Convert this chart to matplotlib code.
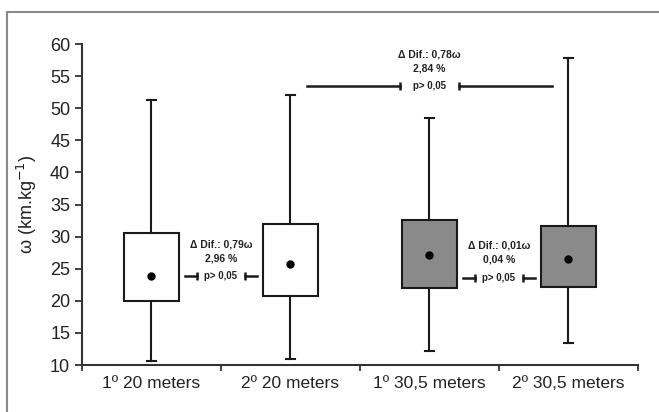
import matplotlib.pyplot as plt
from matplotlib.lines import Line2D

plt.rcParams['font.family'] = ['Liberation Sans', 'DejaVu Sans']

groups = ['1º 20 meters', '2º 20 meters', '1º 30,5 meters', '2º 30,5 meters']
whislo = [10.7, 11.0, 12.2, 13.4]
q1 = [20.0, 20.8, 22.0, 22.2]
q3 = [30.5, 31.9, 32.6, 31.7]
whishi = [51.3, 52.1, 48.5, 57.8]
means = [23.8, 25.7, 27.1, 26.5]
fills = ['white', 'white', '#8a8a8a', '#8a8a8a']

# comparisons: (between which boxes, bracket height, text)
comp_mid = [1.5, 3.0, 3.5]
comp_y = [23.8, 53.4, 23.6]
comp_diff = ['Δ Dif.: 0,79ω', 'Δ Dif.: 0,78ω', 'Δ Dif.: 0,01ω']
comp_pct = ['2,96 %', '2,84 %', '0,04 %']
comp_inner = [0.17, 0.21, 0.17]
comp_outer = [0.26, 0.88, 0.26]

fig = plt.figure(figsize=(6.59, 4.12), dpi=100)
ax = fig.add_axes([0.1244, 0.114, 0.8436, 0.779])

stats = []
for i in range(len(groups)):
    stats.append({'whislo': whislo[i], 'q1': q1[i], 'med': means[i], 'q3': q3[i],
                  'whishi': whishi[i], 'mean': means[i], 'label': groups[i]})

bp = ax.bxp(stats, positions=range(1, 5), widths=0.4, patch_artist=True,
            showmeans=True, showfliers=False,
            boxprops=dict(edgecolor='#1a1a1a', linewidth=1.5),
            whiskerprops=dict(color='#1a1a1a', linewidth=1.5),
            capprops=dict(color='#1a1a1a', linewidth=1.5),
            medianprops=dict(linewidth=0),
            meanprops=dict(marker='o', markerfacecolor='black', markeredgecolor='black', markersize=5),
            capwidths=0.06)
for patch, c in zip(bp['boxes'], fills):
    patch.set_facecolor(c)

for i in range(len(comp_mid)):
    m, y = comp_mid[i], comp_y[i]
    ax.plot([m - comp_outer[i], m - comp_inner[i]], [y, y], color='#1a1a1a', lw=1.8)
    ax.plot([m + comp_inner[i], m + comp_outer[i]], [y, y], color='#1a1a1a', lw=1.8)
    ax.plot([m - comp_inner[i], m + comp_inner[i]], [y, y], ls='none', marker='|',
            color='#1a1a1a', markersize=6, mew=1.8)
    ax.text(m, y, 'p> 0,05', ha='center', va='center', fontsize=7, fontweight='bold',
            color='#222222')
    ax.annotate(comp_diff[i], (m, y), xytext=(0, 23), textcoords='offset points',
                ha='center', va='center', fontsize=7.5, fontweight='bold', color='#222222')
    ax.annotate(comp_pct[i], (m, y), xytext=(0, 13), textcoords='offset points',
                ha='center', va='center', fontsize=7.5, fontweight='bold', color='#222222')

ax.set_xlim(0.5, 4.5)
ax.set_ylim(10, 60)
ax.set_yticks(range(10, 61, 5))
ax.set_xticks([0.5, 1.5, 2.5, 3.5, 4.5])
ax.set_xticklabels([])
ax.set_xticks(range(1, 5), minor=True)
ax.set_xticklabels(groups, minor=True)
ax.tick_params(axis='x', which='minor', length=0, pad=8, labelsize=12.5, colors='#222222')
ax.tick_params(axis='x', which='major', length=4, width=1.3, color='#333333')
ax.tick_params(axis='y', length=5, width=1.3, labelsize=13, color='#333333', labelcolor='#222222')
ax.set_ylabel('ω (km.kg$^{-1}$)', fontsize=13, color='#222222', labelpad=8)
for s in ['top', 'right']:
    ax.spines[s].set_visible(False)
for s in ['left', 'bottom']:
    ax.spines[s].set_linewidth(1.5)
    ax.spines[s].set_color('#333333')

# outer frame (only top and left visible in the reference)
fig.add_artist(Line2D([7 / 659, 1.0], [0.971, 0.971], color='#8a8a8a', lw=1.5))
fig.add_artist(Line2D([7 / 659, 7 / 659], [0.971, 0.0], color='#8a8a8a', lw=1.5))

fig.savefig('out.png', dpi=100)
